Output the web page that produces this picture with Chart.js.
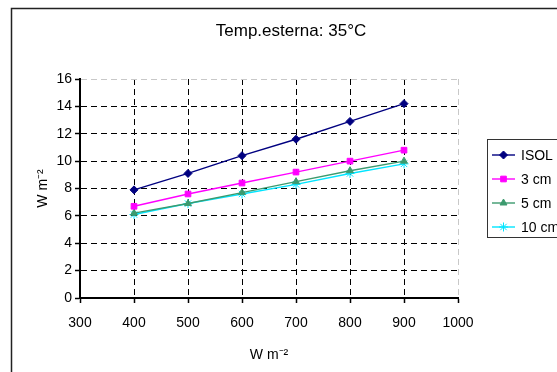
<!DOCTYPE html>
<html>
<head>
<meta charset="utf-8">
<script src="https://cdn.jsdelivr.net/npm/chart.js@4"></script>
<style>
  body { margin: 0; background: #fff; }
  canvas { display: block; }
</style>
</head>
<body>
<canvas id="grafico" width="557" height="372"></canvas>
<script>
// irradiance (W m-2) on the x axis
const irradiance = [400, 500, 600, 700, 800, 900];
// flux values
const isol = [7.9, 9.1, 10.4, 11.6, 12.9, 14.2];
const cm3 = [6.7, 7.6, 8.4, 9.2, 10.0, 10.8];
const cm5 = [6.2, 6.9, 7.7, 8.5, 9.3, 10.0];
const cm10 = [6.1, 6.9, 7.6, 8.3, 9.1, 9.8];
const seriesNames = ['ISOL', '3 cm', '5 cm', '10 cm'];
const chartTitle = 'Temp.esterna: 35°C';
const axisTitle = 'W m⁻²';

const FONT = 'Arial, "Liberation Sans", sans-serif';

function pts(vals) {
    return irradiance.map((x, i) => ({ x: x, y: vals[i] }));
}

function serie(label, vals, color, style, radius) {
    return {
        label: label,
        data: pts(vals),
        borderColor: color,
        backgroundColor: color,
        pointBackgroundColor: color,
        pointBorderColor: color,
        pointStyle: style,
        pointRadius: radius,
        pointBorderWidth: 1,
        borderWidth: 1.4,
        tension: 0
    };
}

// white background + outer frame
const frame = {
    id: 'frame',
    beforeDraw(chart) {
        const ctx = chart.ctx;
        ctx.save();
        ctx.fillStyle = '#fff';
        ctx.fillRect(0, 0, chart.width, chart.height);
        ctx.strokeStyle = '#222';
        ctx.lineWidth = 1.5;
        ctx.strokeRect(11.5, 8.5, 620, 420);
        ctx.restore();
    }
};

// excel style legend box: line + marker + label
const legendBox = {
    id: 'legendBox',
    afterDraw(chart) {
        const ctx = chart.ctx;
        ctx.save();
        ctx.strokeStyle = '#333';
        ctx.lineWidth = 1;
        ctx.strokeRect(487.5, 139.5, 120, 98);
        const rows = [155, 179, 203, 227];
        ctx.font = '14px ' + FONT;
        ctx.textBaseline = 'middle';
        ctx.textAlign = 'left';
        chart.data.datasets.forEach((ds, i) => {
            const y = rows[i];
            ctx.strokeStyle = ds.borderColor;
            ctx.lineWidth = 1.4;
            ctx.beginPath();
            ctx.moveTo(492, y);
            ctx.lineTo(515, y);
            ctx.stroke();
            ctx.fillStyle = ds.pointBackgroundColor;
            ctx.strokeStyle = ds.pointBorderColor;
            ctx.lineWidth = 1;
            Chart.helpers.drawPoint(ctx, { pointStyle: ds.pointStyle, radius: ds.pointRadius, borderWidth: 1, rotation: 0 }, 503.5, y);
            ctx.fillStyle = '#000';
            ctx.fillText(ds.label, 521, y + 1);
        });
        ctx.restore();
    }
};

new Chart(document.getElementById('grafico'), {
    type: 'line',
    data: {
        datasets: [
            serie(seriesNames[0], isol, '#000080', 'rectRot', 4),
            serie(seriesNames[1], cm3, '#ff00ff', 'rect', 4),
            serie(seriesNames[2], cm5, '#3c9a6e', 'triangle', 4),
            serie(seriesNames[3], cm10, '#00e5ff', 'star', 4.5)
        ]
    },
    options: {
        responsive: false,
        animation: false,
        layout: { padding: { top: 0, left: 25, right: 0, bottom: 0 } },
        plugins: {
            legend: { display: false },
            tooltip: { enabled: false },
            title: {
                display: true,
                text: chartTitle,
                color: '#000',
                font: { family: FONT, size: 17, weight: 'normal' },
                padding: { top: 21.5, bottom: 37.1 }
            }
        },
        scales: {
            x: {
                type: 'linear',
                min: 300,
                max: 1000,
                ticks: {
                    stepSize: 100,
                    color: '#000',
                    font: { family: FONT, size: 14 },
                    padding: 12,
                    maxRotation: 0,
                    callback: v => String(v)
                },
                grid: {
                    color: ctx => ctx.tick && ctx.tick.value === 1000 ? '#c8c8c8' : '#000',
                    lineWidth: 1,
                    tickLength: 5,
                    tickColor: '#000',
                    tickWidth: 1.5,
                    tickBorderDash: []
                },
                border: { display: true, color: '#000', width: 2, dash: [6, 4] },
                title: {
                    display: true,
                    text: axisTitle,
                    color: '#000',
                    font: { family: FONT, size: 14 },
                    padding: { top: 0, bottom: 8 }
                },
                afterFit(scale) { scale.height = 74; }
            },
            y: {
                min: 0,
                max: 16,
                ticks: {
                    stepSize: 2,
                    color: '#000',
                    font: { family: FONT, size: 14 },
                    padding: 3
                },
                grid: {
                    color: ctx => ctx.tick && ctx.tick.value === 16 ? '#c8c8c8' : '#000',
                    lineWidth: 1,
                    tickLength: 5,
                    tickColor: '#000',
                    tickWidth: 1.5,
                    tickBorderDash: []
                },
                border: { display: true, color: '#000', width: 2, dash: [6, 4] },
                title: {
                    display: true,
                    text: axisTitle,
                    color: '#000',
                    font: { family: FONT, size: 14 },
                    padding: { top: 10, bottom: 0 }
                },
                afterFit(scale) { scale.width = 55; }
            },
            // empty right-hand axis that only reserves room for the legend box
            yRight: {
                position: 'right',
                min: 0,
                max: 16,
                grid: { display: false, drawTicks: false },
                border: { display: false },
                ticks: { display: false },
                afterFit(scale) { scale.width = 99; }
            }
        }
    },
    plugins: [frame, legendBox]
});
</script>
</body>
</html>
